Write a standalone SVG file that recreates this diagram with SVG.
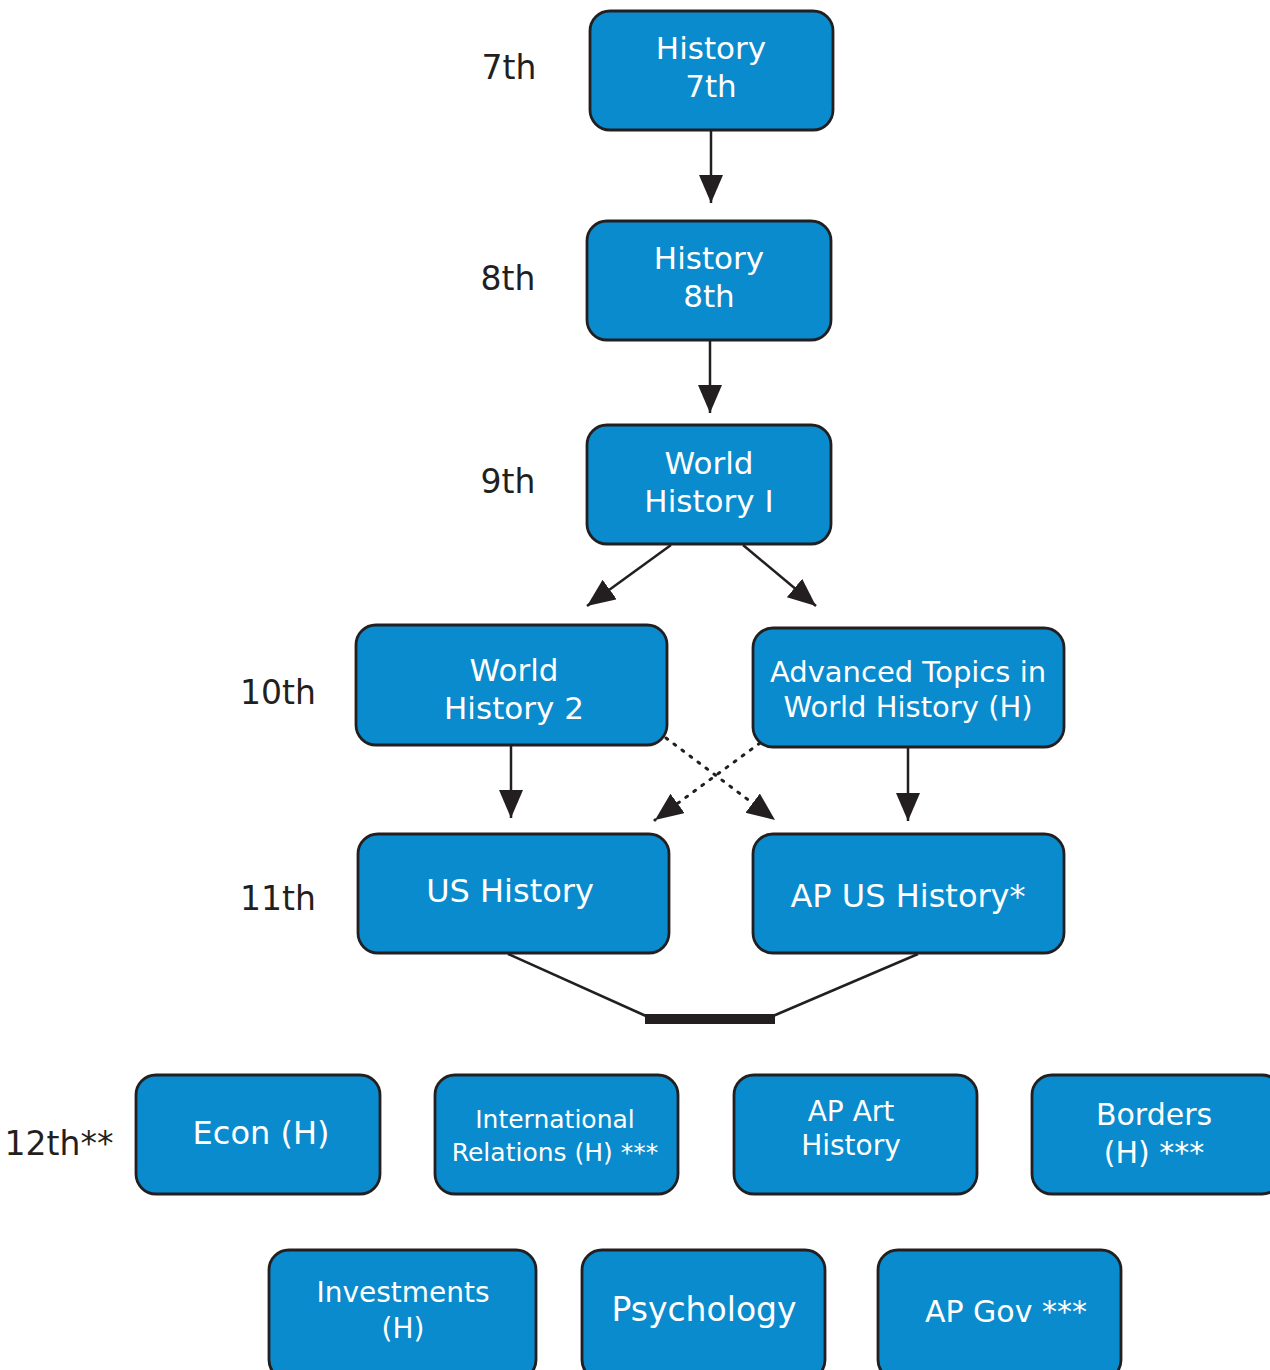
<svg xmlns="http://www.w3.org/2000/svg" width="1270" height="1370" viewBox="0 0 1270 1370">
<style>
.n rect{fill:#0a8bcd;stroke:#231f20;stroke-width:2.8}
.n text{fill:#fff;font-family:"DejaVu Sans","Noto Sans",sans-serif;text-anchor:middle}
.lbl{fill:#231f20;font-family:"DejaVu Sans","Noto Sans",sans-serif;font-size:33px;text-anchor:middle}
.c line{stroke:#231f20;stroke-width:2.5}
.c .d{stroke-dasharray:2 8;stroke-linecap:round;stroke-width:3}
</style>
<defs>
<marker id="a" markerUnits="userSpaceOnUse" markerWidth="30" markerHeight="26" refX="28" refY="12" orient="auto">
<path d="M0,0 L28,12 L0,24 Z" fill="#231f20"/>
</marker>
</defs>
<rect width="1270" height="1370" fill="#fff"/>
<g id="grade-labels">
<text class="lbl" x="509" y="79">7th</text>
<text class="lbl" x="508" y="290">8th</text>
<text class="lbl" x="508" y="493">9th</text>
<text class="lbl" x="278" y="704">10th</text>
<text class="lbl" x="278" y="910">11th</text>
<text class="lbl" x="59" y="1155" font-size="31">12th**</text>
</g>
<g class="c" id="connectors">
<line x1="711" y1="131" x2="711" y2="203" marker-end="url(#a)"/>
<line x1="710" y1="341" x2="710" y2="413" marker-end="url(#a)"/>
<line x1="671" y1="545" x2="587" y2="606" marker-end="url(#a)"/>
<line x1="743" y1="545" x2="816" y2="606" marker-end="url(#a)"/>
<line x1="511" y1="746" x2="511" y2="818" marker-end="url(#a)"/>
<line x1="908" y1="748" x2="908" y2="821" marker-end="url(#a)"/>
<line class="d" x1="666" y1="738" x2="775" y2="820" marker-end="url(#a)"/>
<line class="d" x1="760" y1="743" x2="655" y2="820" marker-end="url(#a)"/>
<line x1="508" y1="954" x2="646" y2="1016"/>
<line x1="918" y1="954" x2="773" y2="1016"/>
<rect x="645" y="1014" width="130" height="10" fill="#231f20"/>
</g>
<g class="n" id="n-hist7"><rect x="590" y="11" width="243" height="119" rx="20"/><text x="711" y="59" font-size="31">History</text><text x="711" y="97" font-size="31">7th</text></g>
<g class="n" id="n-hist8"><rect x="587" y="221" width="244" height="119" rx="20"/><text x="709" y="269" font-size="31">History</text><text x="709" y="307" font-size="31">8th</text></g>
<g class="n" id="n-wh1"><rect x="587" y="425" width="244" height="119" rx="20"/><text x="709" y="474" font-size="31">World</text><text x="709" y="512" font-size="31">History I</text></g>
<g class="n" id="n-wh2"><rect x="356" y="625" width="311" height="120" rx="20"/><text x="514" y="681" font-size="31">World</text><text x="514" y="719" font-size="31">History 2</text></g>
<g class="n" id="n-adv"><rect x="753" y="628" width="311" height="119" rx="20"/><text x="908" y="682" font-size="29">Advanced Topics in</text><text x="908" y="717" font-size="29">World History (H)</text></g>
<g class="n" id="n-us"><rect x="358" y="834" width="311" height="119" rx="20"/><text x="510" y="902" font-size="32">US History</text></g>
<g class="n" id="n-apus"><rect x="753" y="834" width="311" height="119" rx="20"/><text x="908" y="907" font-size="32">AP US History*</text></g>
<g class="n" id="n-econ"><rect x="136" y="1075" width="244" height="119" rx="20"/><text x="261" y="1144" font-size="32">Econ (H)</text></g>
<g class="n" id="n-ir"><rect x="435" y="1075" width="243" height="119" rx="20"/><text x="555" y="1128" font-size="25">International</text><text x="555" y="1161" font-size="25">Relations (H) ***</text></g>
<g class="n" id="n-apart"><rect x="734" y="1075" width="243" height="119" rx="20"/><text x="851" y="1121" font-size="28">AP Art</text><text x="851" y="1155" font-size="28">History</text></g>
<g class="n" id="n-borders"><rect x="1032" y="1075" width="250" height="119" rx="20"/><text x="1154" y="1125" font-size="30">Borders</text><text x="1154" y="1163" font-size="30">(H) ***</text></g>
<g class="n" id="n-invest"><rect x="269" y="1250" width="267" height="130" rx="20"/><text x="403" y="1302" font-size="28">Investments</text><text x="403" y="1338" font-size="28">(H)</text></g>
<g class="n" id="n-psych"><rect x="582" y="1250" width="243" height="130" rx="20"/><text x="704" y="1321" font-size="33">Psychology</text></g>
<g class="n" id="n-apgov"><rect x="878" y="1250" width="243" height="130" rx="20"/><text x="1006" y="1322" font-size="30">AP Gov ***</text></g>
</svg>
